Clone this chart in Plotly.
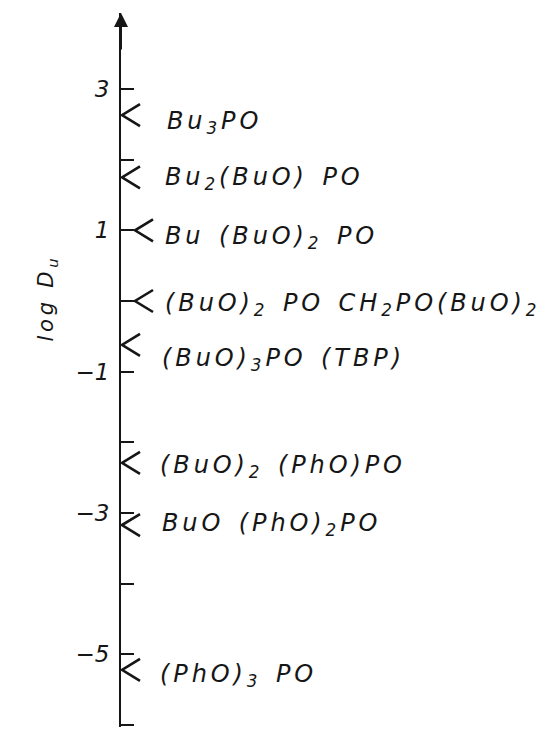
import plotly.graph_objects as go

# Distribution ratio (log D_U) of organophosphorus extractants
compounds = [
    "Bu<sub>3</sub>PO",
    "Bu<sub>2</sub>(BuO) PO",
    "Bu (BuO)<sub>2</sub> PO",
    "(BuO)<sub>2</sub> PO CH<sub>2</sub>PO(BuO)<sub>2</sub>",
    "(BuO)<sub>3</sub>PO (TBP)",
    "(BuO)<sub>2</sub> (PhO)PO",
    "BuO (PhO)<sub>2</sub>PO",
    "(PhO)<sub>3</sub> PO",
]
log_d = [2.63, 1.75, 1.0, 0.0, -0.62, -2.29, -3.17, -5.22]

tick_values = [-6, -5, -4, -3, -2, -1, 0, 1, 2, 3]
tick_labels = [(str(v).replace("-", "\u2212") if v % 2 else "") for v in tick_values]

# layout constants (pixels)
W, H = 550, 730
M_L, M_T, M_B = 121, 13, 3
Y_MIN, Y_MAX = -6.028, 4.075
PX_PER_UNIT = (H - M_T - M_B) / (Y_MAX - Y_MIN)
TICK_LEN = 13
CHEV_W = 18
CHEV_H = 11 / PX_PER_UNIT
label_x = [44, 42, 42, 42, 39, 37, 39, 37]
label_dy = [7, 1, 7, 4, 15, 4, -1, 6]

INK = "#161616"
FONT = "DejaVu Sans"

# chevron "<" markers pointing at each compound's value on the axis
cx, cy = [], []
for v in log_d:
    tip = TICK_LEN + 1 if float(v).is_integer() else 1
    cx += [tip + CHEV_W, tip, tip + CHEV_W, None]
    cy += [v + CHEV_H, v, v - CHEV_H, None]

fig = go.Figure(
    go.Scatter(
        x=cx, y=cy, mode="lines",
        line=dict(color=INK, width=2.6),
        hoverinfo="skip", showlegend=False, cliponaxis=False,
    )
)

for name, v, lx, dy in zip(compounds, log_d, label_x, label_dy):
    fig.add_annotation(
        x=lx, y=v, xref="x", yref="y", text=name, showarrow=False,
        xanchor="left", yanchor="middle", yshift=-dy,
        font=dict(family=FONT, size=24, color=INK, style="italic"),
    )

# axis title
fig.add_annotation(
    xref="paper", yref="paper", x=-0.172, y=(H - M_B - 298) / (H - M_T - M_B),
    text="log D<sub>u</sub>", textangle=-90, showarrow=False,
    xanchor="center", yanchor="middle",
    font=dict(family=FONT, size=21, color=INK, style="italic"),
)

# arrowhead at the top of the axis
fig.add_annotation(
    x=0, y=Y_MAX, xref="x", yref="y", text="",
    showarrow=True, ax=0, ay=38, axref="pixel", ayref="pixel",
    arrowhead=2, arrowsize=1.4, arrowwidth=2, arrowcolor=INK,
)

fig.update_layout(
    width=W, height=H,
    margin=dict(l=M_L, r=0, t=M_T, b=M_B),
    paper_bgcolor="white", plot_bgcolor="white",
    xaxis=dict(range=[0, W - M_L], visible=False, fixedrange=True),
    yaxis=dict(
        range=[Y_MIN, Y_MAX], showgrid=False, zeroline=False,
        showline=True, linecolor=INK, linewidth=2,
        ticks="inside", ticklen=TICK_LEN, tickwidth=2, tickcolor=INK,
        tickvals=tick_values, ticktext=tick_labels,
        ticklabelstandoff=5,
        tickfont=dict(family=FONT, size=23, color=INK, style="italic"),
        fixedrange=True,
    ),
)

# the hand-lettered labels are widely tracked; keep the compound labels
# anchored at their left edge after widening them
spacing_js = """
var nLabels = %d;
document.querySelectorAll('.annotation').forEach(function (g) {
  var t = g.querySelector('.annotation-text');
  if (!t) { return; }
  var idx = +g.getAttribute('data-index');
  var w0 = t.getBBox().width;
  if (idx < nLabels) {
    t.style.letterSpacing = '3.9px';
    t.style.wordSpacing = '3px';
    var w1 = t.getBBox().width;
    var x = parseFloat(t.getAttribute('x')) || 0;
    t.setAttribute('x', x + (w1 - w0) / 2);
  } else {
    t.style.letterSpacing = '3.8px';
  }
});
""" % len(compounds)

fig.write_html("out.html", post_script=spacing_js)
